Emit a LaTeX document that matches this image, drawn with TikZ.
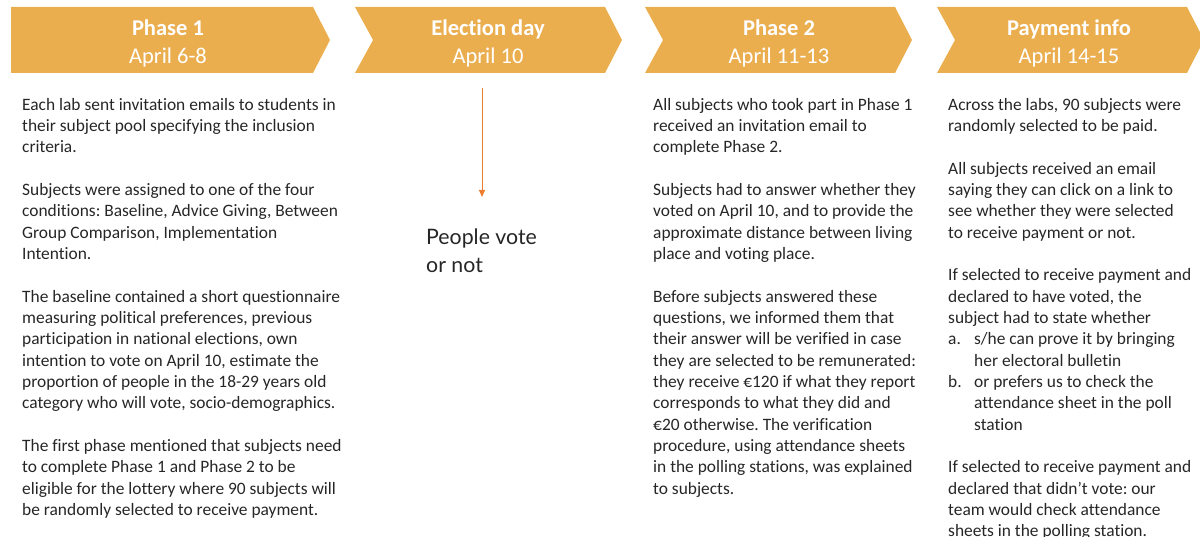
\documentclass[tikz,border=0pt]{standalone}
\usepackage{fontspec}
\setmainfont[Ligatures=NoCommon]{Carlito}
\newfontfamily\votefont{Lato}
\usetikzlibrary{arrows.meta}
\frenchspacing
\definecolor{chevron}{RGB}{235,174,79}
\definecolor{bodytext}{RGB}{38,38,38}
\definecolor{arroworange}{RGB}{237,125,49}
\tikzset{
  chev/.style={fill=chevron, draw=none},
  headtxt/.style={text=white, align=center, inner sep=0pt,
    font=\fontsize{22.5}{28}\selectfont},
  bodytxt/.style={anchor=north west, align=left, inner sep=0pt, text=bodytext,
    font=\fontsize{17.4}{21.33}\selectfont},
}
\newcommand{\gap}{\\[21.33pt]}
\newcommand{\itm}[1]{\makebox[26pt][l]{#1}}
\begin{document}
\begin{tikzpicture}[x=1pt,y=-1pt]
\useasboundingbox (0,0) rectangle (1200,537);

% header chevrons
\fill[chev] (11,7) -- (313,7) -- (330,40) -- (313,73) -- (11,73) -- cycle;
\fill[chev] (355,7) -- (605,7) -- (622,40) -- (605,73) -- (355,73) -- (373,40) -- cycle;
\fill[chev] (645,7) -- (895,7) -- (912,40) -- (895,73) -- (645,73) -- (663,40) -- cycle;
\fill[chev] (937,7) -- (1187,7) -- (1204,40) -- (1187,73) -- (937,73) -- (955,40) -- cycle;

\node[headtxt] (h1) at (168,43) {\textbf{Phase 1}\\April 6-8};
\node[headtxt] (h2) at (488,43) {\textbf{Election day}\\April 10};
\node[headtxt] (h3) at (779,43) {\textbf{Phase 2}\\April 11-13};
\node[headtxt] (h4) at (1069,43) {\textbf{Payment info}\\April 14-15};

% column 1
\node[bodytxt] (c1) at (22,95) {\strut Each lab sent invitation emails to students in\\
their subject pool specifying the inclusion\\
criteria.\gap
Subjects were assigned to one of the four\\
conditions: Baseline, Advice Giving, Between\\
Group Comparison, Implementation\\
Intention.\gap
The baseline contained a short questionnaire\\
measuring political preferences, previous\\
participation in national elections, own\\
intention to vote on April 10, estimate the\\
proportion of people in the 18-29 years old\\
category who will vote, socio-demographics.\gap
The first phase mentioned that subjects need\\
to complete Phase 1 and Phase 2 to be\\
eligible for the lottery where 90 subjects will\\
be randomly selected to receive payment.};

% column 2
\coordinate (vtop) at (482,88);
\coordinate (vbot) at (482,197);
\draw[arroworange, line width=1pt, -{Triangle[width=6pt,length=7pt]}] (vtop) -- (vbot);
\node[anchor=north west, align=left, inner sep=0pt, text=bodytext,
  font=\votefont\fontsize{21.3}{28}\selectfont] (vote) at (426,225) {\strut People vote\\or not};

% column 3
\node[bodytxt] (c3) at (653,95) {\strut All subjects who took part in Phase 1\\
received an invitation email to\\
complete Phase 2.\gap
Subjects had to answer whether they\\
voted on April 10, and to provide the\\
approximate distance between living\\
place and voting place.\gap
Before subjects answered these\\
questions, we informed them that\\
their answer will be verified in case\\
they are selected to be remunerated:\\
they receive €120 if what they report\\
corresponds to what they did and\\
€20 otherwise. The verification\\
procedure, using attendance sheets\\
in the polling stations, was explained\\
to subjects.};

% column 4
\node[bodytxt] (c4) at (948,95) {\strut Across the labs, 90 subjects were\\
randomly selected to be paid.\gap
All subjects received an email\\
saying they can click on a link to\\
see whether they were selected\\
to receive payment or not.\gap
If selected to receive payment and\\
declared to have voted, the\\
subject had to state whether\\
\itm{a.}s/he can prove it by bringing\\
\itm{}her electoral bulletin\\
\itm{b.}or prefers us to check the\\
\itm{}attendance sheet in the poll\\
\itm{}station\gap
If selected to receive payment and\\
declared that didn’t vote: our\\
team would check attendance\\
sheets in the polling station.};
\end{tikzpicture}
\end{document}
